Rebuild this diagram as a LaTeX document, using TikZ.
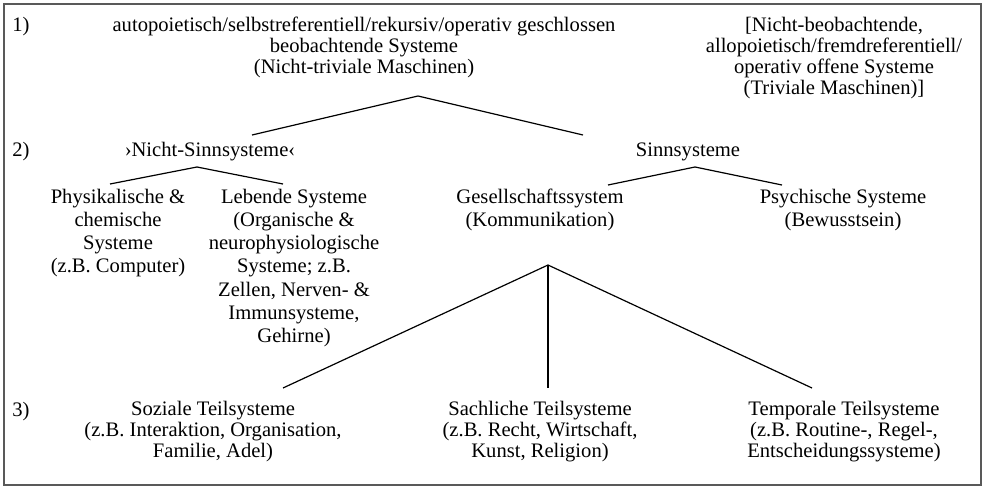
\documentclass[tikz,border=0pt]{standalone}
\usepackage{fontspec}
\setmainfont{Liberation Serif}
\tikzset{
  txt/.style={align=center, inner sep=0pt, font=\fontsize{10.3}{10.5}\selectfont},
  txtwide/.style={align=center, inner sep=0pt, font=\fontsize{10.3}{11.6}\selectfont},
  lvl/.style={anchor=west, inner sep=0pt, font=\fontsize{10.3}{10.5}\selectfont},
  branch/.style={line width=0.6pt}
}
\begin{document}
\begin{tikzpicture}[x=0.5pt,y=-0.5pt]
\useasboundingbox (0,0) rectangle (985,487);
\draw[color=black!65, line width=0.9pt] (4,4) rectangle (981,485);
% Ebenen
\node[lvl] (l1) at (12,27) {1)};
\node[lvl] (l2) at (12,152) {2)};
\node[lvl] (l3) at (12,412) {3)};
% 1)
\node[txt] (beob) at (364,47.5) {autopoietisch/selbstreferentiell/rekursiv/operativ geschlossen\\beobachtende Systeme\\(Nicht-triviale Maschinen)};
\node[txt] (nbeob) at (834,58.5) {[Nicht-beobachtende,\\allopoietisch/fremdreferentiell/\\operativ offene Systeme\\(Triviale Maschinen)]};
% 2)
\node[txt] (nsinn) at (210,152) {›Nicht-Sinnsysteme‹};
\node[txt] (sinn) at (688,152) {Sinnsysteme};
\node[txtwide] (phys) at (118,233) {Physikalische \&\\chemische\\Systeme\\(z.B. Computer)};
\node[txtwide] (leb) at (294,268) {Lebende Systeme\\(Organische \&\\neurophysiologische\\Systeme; z.B.\\Zellen, Nerven- \&\\Immunsysteme,\\Gehirne)};
\node[txtwide] (ges) at (540,210) {Gesellschaftssystem\\(Kommunikation)};
\node[txtwide] (psy) at (843,210) {Psychische Systeme\\(Bewusstsein)};
% 3)
\node[txt] (soz) at (213,432) {Soziale Teilsysteme\\(z.B. Interaktion, Organisation,\\Familie, Adel)};
\node[txt] (sach) at (540,432) {Sachliche Teilsysteme\\(z.B. Recht, Wirtschaft,\\Kunst, Religion)};
\node[txt] (temp) at (844,432) {Temporale Teilsysteme\\(z.B. Routine-, Regel-,\\Entscheidungssysteme)};
% Verzweigungen
\coordinate (top1) at (418,96);
\coordinate (nsinnE) at (252,135);
\coordinate (sinnE) at (583,135);
\coordinate (top2) at (197,167);
\coordinate (physE) at (110,184);
\coordinate (lebE) at (283,184);
\coordinate (top3) at (695,167);
\coordinate (gesE) at (608,185);
\coordinate (psyE) at (782,185);
\coordinate (top4) at (548,265);
\coordinate (sozE) at (283,388);
\coordinate (sachE) at (548,388);
\coordinate (tempE) at (812,388);
\draw[branch] (nsinnE)--(top1)--(sinnE);
\draw[branch] (physE)--(top2)--(lebE);
\draw[branch] (gesE)--(top3)--(psyE);
\draw[branch] (sozE)--(top4)--(tempE);
\draw[branch] (top4)--(sachE);
\end{tikzpicture}
\end{document}
